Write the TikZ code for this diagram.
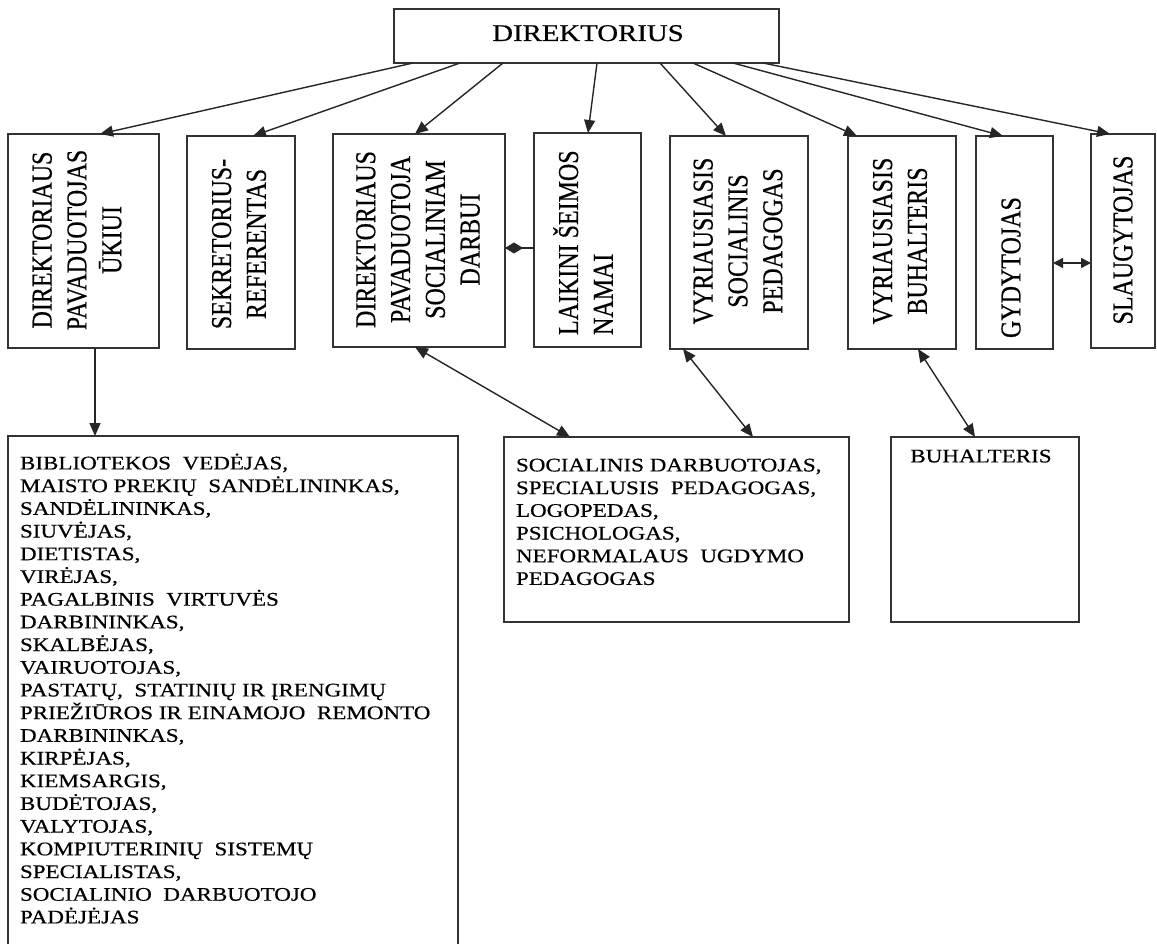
\documentclass[tikz,border=0pt]{standalone}
\usepackage{fontspec}
\setmainfont{Liberation Serif}[FakeBold=0.5]
\usetikzlibrary{arrows.meta}
\newcommand\vtxt[2]{\rotatebox{90}{\scalebox{1}[1.2]{\parbox{#1}{\fontsize{24}{29}\selectfont\centering #2}}}}
\newcommand\vtxl[2]{\rotatebox{90}{\scalebox{1}[1.2]{\parbox{#1}{\fontsize{24}{29}\selectfont\raggedright #2}}}}
\newcommand\htxt[3]{\scalebox{1.2}[1]{\parbox[t]{#1}{\fontsize{19.2}{#2}\selectfont\raggedright #3}}}
\begin{document}
\begin{tikzpicture}[x=1pt,y=-1pt,
  box/.style={draw=black!80, line width=1.4pt, inner sep=0pt, outer sep=0pt},
  txt/.style={inner sep=0pt, outer sep=0pt, text=black},
  arr/.style={draw=black!85, line width=1.4pt, -{Triangle[length=13pt,width=11pt]}},
  dbl/.style={draw=black!85, line width=1.4pt, {Triangle[length=13pt,width=11pt]}-{Triangle[length=13pt,width=11pt]}},
  dia/.style={draw=black!85, line width=1.4pt, {Diamond[length=18pt,width=11pt]}-}]
\useasboundingbox (0,0) rectangle (1157,944);
\fill[white] (0,0) rectangle (1157,944);
\clip (0,0) rectangle (1157,944);

% boxes
\node[box, minimum width=385pt, minimum height=54pt] (dir) at (586.5,36) {};
\node[box, minimum width=151pt, minimum height=214pt] (b1) at (83.5,241) {};
\node[box, minimum width=108pt, minimum height=213pt] (b2) at (241,242.5) {};
\node[box, minimum width=172pt, minimum height=213pt] (b3) at (419,240.5) {};
\node[box, minimum width=107pt, minimum height=214pt] (b4) at (587.5,240) {};
\node[box, minimum width=138pt, minimum height=213pt] (b5) at (739,242.5) {};
\node[box, minimum width=108pt, minimum height=213pt] (b6) at (902,242.5) {};
\node[box, minimum width=77pt, minimum height=213pt] (b7) at (1014.5,242.5) {};
\node[box, minimum width=64pt, minimum height=214pt] (b8) at (1123,241) {};
\node[box, minimum width=450pt, minimum height=524pt] (big) at (233,698) {};
\node[box, minimum width=345pt, minimum height=185pt] (mid) at (676.5,529.5) {};
\node[box, minimum width=188pt, minimum height=185pt] (buh) at (985,529.5) {};

% texts
\node[txt, anchor=base, font=\fontsize{24}{29}\selectfont] (t0) at (588,41) {\scalebox{1.2}[1]{DIREKTORIUS}};
\node[txt] (t1) at (77,240) {\vtxt{200pt}{DIREKTORIAUS\\PAVADUOTOJAS\\ŪKIUI}};
\node[txt] (t2) at (239,244) {\vtxt{200pt}{SEKRETORIUS-\\REFERENTAS}};
\node[txt] (t3) at (418,239.5) {\vtxt{200pt}{DIREKTORIAUS\\PAVADUOTOJA\\SOCIALINIAM\\DARBUI}};
\node[txt, anchor=south] (t4) at (583,335) {\vtxl{190pt}{LAIKINI ŠEIMOS\\NAMAI}};
\node[txt] (t5) at (738,241) {\vtxt{200pt}{VYRIAUSIASIS\\SOCIALINIS\\PEDAGOGAS}};
\node[txt] (t6) at (900,241) {\vtxt{200pt}{VYRIAUSIASIS\\BUHALTERIS}};
\node[txt, anchor=south] (t7) at (1011,338) {\vtxl{150pt}{GYDYTOJAS}};
\node[txt] (t8) at (1123,240) {\vtxt{200pt}{SLAUGYTOJAS}};
\node[txt, anchor=base west] (t9) at (20,469.4) {\htxt{360pt}{22.7}{BIBLIOTEKOS\ \ VEDĖJAS,\\MAISTO PREKIŲ\ \ SANDĖLININKAS,\\SANDĖLININKAS,\\SIUVĖJAS,\\DIETISTAS,\\VIRĖJAS,\\PAGALBINIS\ \ VIRTUVĖS\\DARBININKAS,\\SKALBĖJAS,\\VAIRUOTOJAS,\\PASTATŲ,\ \ STATINIŲ IR ĮRENGIMŲ\\PRIEŽIŪROS IR EINAMOJO\ \ REMONTO\\DARBININKAS,\\KIRPĖJAS,\\KIEMSARGIS,\\BUDĖTOJAS,\\VALYTOJAS,\\KOMPIUTERINIŲ\ \ SISTEMŲ\\SPECIALISTAS,\\SOCIALINIO\ \ DARBUOTOJO\\PADĖJĖJAS}};
\node[txt, anchor=base west] (t10) at (516,471.4) {\htxt{300pt}{22.7}{SOCIALINIS DARBUOTOJAS,\\SPECIALUSIS\ \ PEDAGOGAS,\\LOGOPEDAS,\\PSICHOLOGAS,\\NEFORMALAUS\ \ UGDYMO\\PEDAGOGAS}};
\node[txt, anchor=base, font=\fontsize{19.2}{23}\selectfont] (t11) at (981,462.4) {\scalebox{1.2}[1]{BUHALTERIS}};

% connectors from DIREKTORIUS
\draw[arr] ([xshift=19pt]dir.south west) -- ([xshift=92pt]b1.north west);
\draw[arr] ([xshift=66pt]dir.south west) -- ([xshift=66pt]b2.north west);
\draw[arr] ([xshift=109pt]dir.south west) -- ([xshift=82pt]b3.north west);
\draw[arr] ([xshift=203pt]dir.south west) -- ([xshift=54pt]b4.north west);
\draw[arr] ([xshift=266pt]dir.south west) -- ([xshift=56pt]b5.north west);
\draw[arr] ([xshift=299pt]dir.south west) -- ([xshift=9pt]b6.north west);
\draw[arr] ([xshift=339pt]dir.south west) -- ([xshift=27pt]b7.north west);
\draw[arr] ([xshift=369pt]dir.south west) -- ([xshift=19pt]b8.north west);

% lower connectors
\draw[arr] ([xshift=87pt]b1.south west) -- ([xshift=87pt]big.north west);
\draw[dbl] ([xshift=82pt]b3.south west) -- ([xshift=66pt]mid.north west);
\draw[dbl] ([xshift=13pt]b5.south west) -- ([xshift=249pt]mid.north west);
\draw[dbl] ([xshift=70pt]b6.south west) -- ([xshift=84pt]buh.north west);

% side connectors
\draw[dia] ([yshift=-7.5pt]b3.east) -- ([yshift=-8pt]b4.west);
\draw[dbl, {Triangle[length=10pt,width=10pt]}-{Triangle[length=10pt,width=10pt]}] ([yshift=-20.5pt]b7.east) -- ([yshift=-22pt]b8.west);
\end{tikzpicture}
\end{document}
